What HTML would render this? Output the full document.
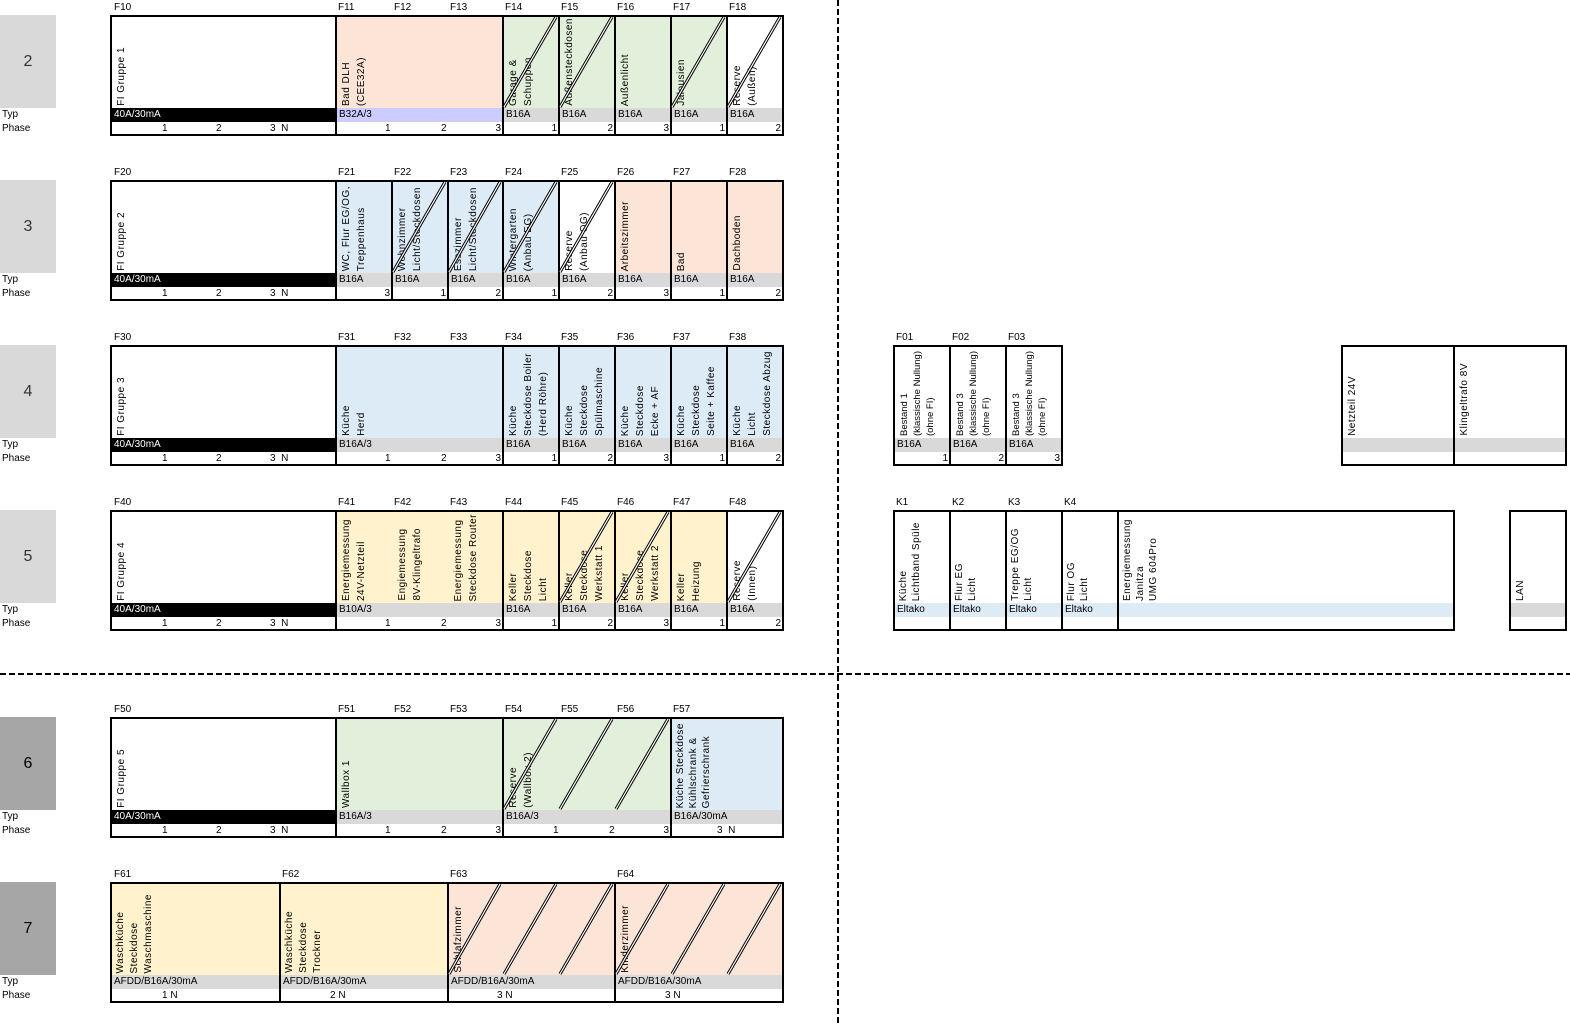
<!DOCTYPE html>
<html><head><meta charset="utf-8">
<style>
body{margin:0;width:1570px;height:1026px;background:#fff;position:relative;overflow:hidden;font-family:"Liberation Sans",Arial,sans-serif;font-size:10px;color:#000}
.c{position:absolute;height:121px;border:2px solid #000;box-sizing:border-box}
.c::before{content:"";position:absolute;left:0;right:0;top:105px;height:12px;background:#fff}
.v{position:absolute;bottom:28px;writing-mode:vertical-rl;transform:rotate(180deg);line-height:15px;letter-spacing:.5px;white-space:pre;font-size:10px}
.s{letter-spacing:0;font-size:9.5px;line-height:13px}
.t{position:absolute;left:0;right:0;top:91px;height:14px;background:#d9d9d9;line-height:14px;padding-left:2px;white-space:nowrap}
.k{background:#000;color:#fff}
.p{position:absolute;top:105px;height:12px;line-height:14px;white-space:nowrap}
.h{position:absolute;line-height:12px}
.n{position:absolute;left:0;width:56px;height:93px;background:#d9d9d9;font-size:16px;text-align:center;line-height:93px;color:#333}
.d{background:#a6a6a6;color:#000}
.l{position:absolute;left:2px;line-height:12px}
.o{background:#fce4d6}.g{background:#e2efda}.b{background:#ddebf7}.y{background:#fff2cc}
</style></head><body>

<div class="n" style="top:15px">2</div><div class="l" style="top:109px">Typ</div><div class="l" style="top:123px">Phase</div>
<div class="n" style="top:180px">3</div><div class="l" style="top:274px">Typ</div><div class="l" style="top:288px">Phase</div>
<div class="n" style="top:345px">4</div><div class="l" style="top:439px">Typ</div><div class="l" style="top:453px">Phase</div>
<div class="n" style="top:510px">5</div><div class="l" style="top:604px">Typ</div><div class="l" style="top:618px">Phase</div>
<div class="n d" style="top:717px">6</div><div class="l" style="top:811px">Typ</div><div class="l" style="top:825px">Phase</div>
<div class="n d" style="top:882px">7</div><div class="l" style="top:976px">Typ</div><div class="l" style="top:990px">Phase</div>

<!-- ROW 2 -->
<div class="h" style="left:114px;top:2px">F10</div><div class="h" style="left:338px;top:2px">F11</div><div class="h" style="left:394px;top:2px">F12</div><div class="h" style="left:450px;top:2px">F13</div><div class="h" style="left:505px;top:2px">F14</div><div class="h" style="left:561px;top:2px">F15</div><div class="h" style="left:617px;top:2px">F16</div><div class="h" style="left:673px;top:2px">F17</div><div class="h" style="left:729px;top:2px">F18</div>
<div class="c" style="left:110px;top:15px;width:227px"><div class="v" style="left:2px">FI Gruppe 1</div><div class="t k">40A/30mA</div><div class="p" style="left:50px">1</div><div class="p" style="left:104px">2</div><div class="p" style="left:158px">3 &nbsp;N</div></div>
<div class="c o" style="left:335px;top:15px;width:169px"><div class="v" style="left:2px">Bad DLH
(CEE32A)</div><div class="t" style="background:#ccccff">B32A/3</div><div class="p" style="left:48px">1</div><div class="p" style="left:104px">2</div><div class="p" style="right:1px">3</div></div>
<div class="c g" style="left:502px;top:15px;width:58px"><div class="v" style="left:2px">Garage &amp;
Schuppen</div><div class="t">B16A</div><div class="p" style="right:1px">1</div></div>
<div class="c g" style="left:558px;top:15px;width:58px"><div class="v" style="left:2px">Außensteckdosen</div><div class="t">B16A</div><div class="p" style="right:1px">2</div></div>
<div class="c g" style="left:614px;top:15px;width:58px"><div class="v" style="left:2px">Außenlicht</div><div class="t">B16A</div><div class="p" style="right:1px">3</div></div>
<div class="c g" style="left:670px;top:15px;width:58px"><div class="v" style="left:2px">Jalousien</div><div class="t">B16A</div><div class="p" style="right:1px">1</div></div>
<div class="c" style="left:726px;top:15px;width:58px"><div class="v" style="left:2px">Reserve
(Außen)</div><div class="t">B16A</div><div class="p" style="right:1px">2</div></div>

<!-- ROW 3 -->
<div class="h" style="left:114px;top:167px">F20</div><div class="h" style="left:338px;top:167px">F21</div><div class="h" style="left:394px;top:167px">F22</div><div class="h" style="left:450px;top:167px">F23</div><div class="h" style="left:505px;top:167px">F24</div><div class="h" style="left:561px;top:167px">F25</div><div class="h" style="left:617px;top:167px">F26</div><div class="h" style="left:673px;top:167px">F27</div><div class="h" style="left:729px;top:167px">F28</div>
<div class="c" style="left:110px;top:180px;width:227px"><div class="v" style="left:2px">FI Gruppe 2</div><div class="t k">40A/30mA</div><div class="p" style="left:50px">1</div><div class="p" style="left:104px">2</div><div class="p" style="left:158px">3 &nbsp;N</div></div>
<div class="c b" style="left:335px;top:180px;width:58px"><div class="v" style="left:2px">WC, Flur EG/OG,
Treppenhaus</div><div class="t">B16A</div><div class="p" style="right:1px">3</div></div>
<div class="c b" style="left:391px;top:180px;width:58px"><div class="v" style="left:2px">Wohnzimmer
Licht/Steckdosen</div><div class="t">B16A</div><div class="p" style="right:1px">1</div></div>
<div class="c b" style="left:447px;top:180px;width:57px"><div class="v" style="left:2px">Esszimmer
Licht/Steckdosen</div><div class="t">B16A</div><div class="p" style="right:1px">2</div></div>
<div class="c b" style="left:502px;top:180px;width:58px"><div class="v" style="left:2px">Wintergarten
(Anbau EG)</div><div class="t">B16A</div><div class="p" style="right:1px">1</div></div>
<div class="c" style="left:558px;top:180px;width:58px"><div class="v" style="left:2px">Reserve
(Anbau OG)</div><div class="t">B16A</div><div class="p" style="right:1px">2</div></div>
<div class="c o" style="left:614px;top:180px;width:58px"><div class="v" style="left:2px">Arbeitszimmer</div><div class="t">B16A</div><div class="p" style="right:1px">3</div></div>
<div class="c o" style="left:670px;top:180px;width:58px"><div class="v" style="left:2px">Bad</div><div class="t">B16A</div><div class="p" style="right:1px">1</div></div>
<div class="c o" style="left:726px;top:180px;width:58px"><div class="v" style="left:2px">Dachboden</div><div class="t">B16A</div><div class="p" style="right:1px">2</div></div>

<!-- ROW 4 -->
<div class="h" style="left:114px;top:332px">F30</div><div class="h" style="left:338px;top:332px">F31</div><div class="h" style="left:394px;top:332px">F32</div><div class="h" style="left:450px;top:332px">F33</div><div class="h" style="left:505px;top:332px">F34</div><div class="h" style="left:561px;top:332px">F35</div><div class="h" style="left:617px;top:332px">F36</div><div class="h" style="left:673px;top:332px">F37</div><div class="h" style="left:729px;top:332px">F38</div>
<div class="c" style="left:110px;top:345px;width:227px"><div class="v" style="left:2px">FI Gruppe 3</div><div class="t k">40A/30mA</div><div class="p" style="left:50px">1</div><div class="p" style="left:104px">2</div><div class="p" style="left:158px">3 &nbsp;N</div></div>
<div class="c b" style="left:335px;top:345px;width:169px"><div class="v" style="left:2px">Küche
Herd</div><div class="t">B16A/3</div><div class="p" style="left:48px">1</div><div class="p" style="left:104px">2</div><div class="p" style="right:1px">3</div></div>
<div class="c b" style="left:502px;top:345px;width:58px"><div class="v" style="left:2px">Küche
Steckdose Boiler
(Herd Röhre)</div><div class="t">B16A</div><div class="p" style="right:1px">1</div></div>
<div class="c b" style="left:558px;top:345px;width:58px"><div class="v" style="left:2px">Küche
Steckdose
Spülmaschine</div><div class="t">B16A</div><div class="p" style="right:1px">2</div></div>
<div class="c b" style="left:614px;top:345px;width:58px"><div class="v" style="left:2px">Küche
Steckdose
Ecke + AF</div><div class="t">B16A</div><div class="p" style="right:1px">3</div></div>
<div class="c b" style="left:670px;top:345px;width:58px"><div class="v" style="left:2px">Küche
Steckdose
Seite + Kaffee</div><div class="t">B16A</div><div class="p" style="right:1px">1</div></div>
<div class="c b" style="left:726px;top:345px;width:58px"><div class="v" style="left:2px">Küche
Licht
Steckdose Abzug</div><div class="t">B16A</div><div class="p" style="right:1px">2</div></div>

<!-- ROW 4 right -->
<div class="h" style="left:896px;top:332px">F01</div><div class="h" style="left:952px;top:332px">F02</div><div class="h" style="left:1008px;top:332px">F03</div>
<div class="c" style="left:893px;top:345px;width:58px"><div class="v s" style="left:3px">Bestand 1
(klassische Nullung)
(ohne FI)</div><div class="t">B16A</div><div class="p" style="right:1px">1</div></div>
<div class="c" style="left:949px;top:345px;width:58px"><div class="v s" style="left:3px">Bestand 3
(klassische Nullung)
(ohne FI)</div><div class="t">B16A</div><div class="p" style="right:1px">2</div></div>
<div class="c" style="left:1005px;top:345px;width:58px"><div class="v s" style="left:3px">Bestand 3
(klassische Nullung)
(ohne FI)</div><div class="t">B16A</div><div class="p" style="right:1px">3</div></div>
<div class="c" style="left:1341px;top:345px;width:114px"><div class="v" style="left:2px">Netzteil 24V</div><div class="t"></div></div>
<div class="c" style="left:1453px;top:345px;width:114px"><div class="v" style="left:2px">Klingeltrafo 8V</div><div class="t"></div></div>

<!-- ROW 5 -->
<div class="h" style="left:114px;top:497px">F40</div><div class="h" style="left:338px;top:497px">F41</div><div class="h" style="left:394px;top:497px">F42</div><div class="h" style="left:450px;top:497px">F43</div><div class="h" style="left:505px;top:497px">F44</div><div class="h" style="left:561px;top:497px">F45</div><div class="h" style="left:617px;top:497px">F46</div><div class="h" style="left:673px;top:497px">F47</div><div class="h" style="left:729px;top:497px">F48</div>
<div class="c" style="left:110px;top:510px;width:227px"><div class="v" style="left:2px">FI Gruppe 4</div><div class="t k">40A/30mA</div><div class="p" style="left:50px">1</div><div class="p" style="left:104px">2</div><div class="p" style="left:158px">3 &nbsp;N</div></div>
<div class="c y" style="left:335px;top:510px;width:169px"><div class="v" style="left:2px">Energiemessung
24V-Netzteil</div><div class="v" style="left:58px">Engiemessung
8V-Klingeltrafo</div><div class="v" style="left:114px">Energiemessung
Steckdose Router</div><div class="t">B10A/3</div><div class="p" style="left:48px">1</div><div class="p" style="left:104px">2</div><div class="p" style="right:1px">3</div></div>
<div class="c y" style="left:502px;top:510px;width:58px"><div class="v" style="left:2px">Keller
Steckdose
Licht</div><div class="t">B16A</div><div class="p" style="right:1px">1</div></div>
<div class="c y" style="left:558px;top:510px;width:58px"><div class="v" style="left:2px">Keller
Steckdose
Werkstatt 1</div><div class="t">B16A</div><div class="p" style="right:1px">2</div></div>
<div class="c y" style="left:614px;top:510px;width:58px"><div class="v" style="left:2px">Keller
Steckdose
Werkstatt 2</div><div class="t">B16A</div><div class="p" style="right:1px">3</div></div>
<div class="c y" style="left:670px;top:510px;width:58px"><div class="v" style="left:2px">Keller
Heizung</div><div class="t">B16A</div><div class="p" style="right:1px">1</div></div>
<div class="c" style="left:726px;top:510px;width:58px"><div class="v" style="left:2px">Reserve
(Innen)</div><div class="t">B16A</div><div class="p" style="right:1px">2</div></div>

<!-- ROW 5 right -->
<div class="h" style="left:896px;top:497px">K1</div><div class="h" style="left:952px;top:497px">K2</div><div class="h" style="left:1008px;top:497px">K3</div><div class="h" style="left:1064px;top:497px">K4</div>
<div class="c" style="left:893px;top:510px;width:58px"><div class="v" style="left:2px;line-height:13px">Küche
Lichtband Spüle</div><div class="t b">Eltako</div></div>
<div class="c" style="left:949px;top:510px;width:58px"><div class="v" style="left:2px;line-height:13px">Flur EG
Licht</div><div class="t b">Eltako</div></div>
<div class="c" style="left:1005px;top:510px;width:58px"><div class="v" style="left:2px;line-height:13px">Treppe EG/OG
Licht</div><div class="t b">Eltako</div></div>
<div class="c" style="left:1061px;top:510px;width:58px"><div class="v" style="left:2px;line-height:13px">Flur OG
Licht</div><div class="t b">Eltako</div></div>
<div class="c" style="left:1117px;top:510px;width:338px"><div class="v" style="left:2px;line-height:13px">Energiemessung
Janitza
UMG 604Pro</div><div class="t b"></div></div>
<div class="c" style="left:1509px;top:510px;width:58px"><div class="v" style="left:2px">LAN</div><div class="t"></div></div>

<!-- ROW 6 -->
<div class="h" style="left:114px;top:704px">F50</div><div class="h" style="left:338px;top:704px">F51</div><div class="h" style="left:394px;top:704px">F52</div><div class="h" style="left:450px;top:704px">F53</div><div class="h" style="left:505px;top:704px">F54</div><div class="h" style="left:561px;top:704px">F55</div><div class="h" style="left:617px;top:704px">F56</div><div class="h" style="left:673px;top:704px">F57</div>
<div class="c" style="left:110px;top:717px;width:227px"><div class="v" style="left:2px">FI Gruppe 5</div><div class="t k">40A/30mA</div><div class="p" style="left:50px">1</div><div class="p" style="left:104px">2</div><div class="p" style="left:158px">3 &nbsp;N</div></div>
<div class="c g" style="left:335px;top:717px;width:169px"><div class="v" style="left:2px">Wallbox 1</div><div class="t">B16A/3</div><div class="p" style="left:48px">1</div><div class="p" style="left:104px">2</div><div class="p" style="right:1px">3</div></div>
<div class="c g" style="left:502px;top:717px;width:170px"><div class="v" style="left:2px">Reserve
(Wallbox 2)</div><div class="t">B16A/3</div><div class="p" style="left:49px">1</div><div class="p" style="left:105px">2</div><div class="p" style="right:1px">3</div></div>
<div class="c b" style="left:670px;top:717px;width:114px"><div class="v" style="left:2px;line-height:13px">Küche Steckdose
Kühlschrank &amp;
Gefrierschrank</div><div class="t">B16A/30mA</div><div class="p" style="left:45px">3 &nbsp;N</div></div>

<!-- ROW 7 -->
<div class="h" style="left:114px;top:869px">F61</div><div class="h" style="left:282px;top:869px">F62</div><div class="h" style="left:450px;top:869px">F63</div><div class="h" style="left:617px;top:869px">F64</div>
<div class="c y" style="left:110px;top:882px;width:171px"><div class="v" style="left:2px;line-height:14px">Waschküche
Steckdose
Waschmaschine</div><div class="t">AFDD/B16A/30mA</div><div class="p" style="left:50px">1 N</div></div>
<div class="c y" style="left:279px;top:882px;width:170px"><div class="v" style="left:2px;line-height:14px">Waschküche
Steckdose
Trockner</div><div class="t">AFDD/B16A/30mA</div><div class="p" style="left:49px">2 N</div></div>
<div class="c o" style="left:447px;top:882px;width:169px"><div class="v" style="left:2px">Schlafzimmer</div><div class="t">AFDD/B16A/30mA</div><div class="p" style="left:48px">3 N</div></div>
<div class="c o" style="left:614px;top:882px;width:170px"><div class="v" style="left:2px">Kinderzimmer</div><div class="t">AFDD/B16A/30mA</div><div class="p" style="left:49px">3 N</div></div>

<svg width="1570" height="1026" style="position:absolute;left:0;top:0" xmlns="http://www.w3.org/2000/svg">
<g fill="none">
<g stroke="#000" stroke-width="3.2">
<path d="M504 107L556 17M560 107L612 17M672 107L724 17M728 107L780 17
M393 272L445 182M449 272L500 182M504 272L556 182M560 272L612 182
M560 602L612 512M616 602L668 512M728 602L780 512
M504 809L556 719M560 809L612 719M616 809L668 719
M449 974L500 884M504 974L556 884M560 974L612 884M616 974L668 884M672 974L724 884M728 974L780 884"/>
</g>
<g stroke="#fff" stroke-width="1.2">
<path d="M504 107L556 17M560 107L612 17M672 107L724 17M728 107L780 17
M393 272L445 182M449 272L500 182M504 272L556 182M560 272L612 182
M560 602L612 512M616 602L668 512M728 602L780 512
M504 809L556 719M560 809L612 719M616 809L668 719
M449 974L500 884M504 974L556 884M560 974L612 884M616 974L668 884M672 974L724 884M728 974L780 884"/>
</g>
</g>
<line x1="838" y1="0" x2="838" y2="1026" stroke="#000" stroke-width="2" stroke-dasharray="6,3"/>
<line x1="0" y1="674" x2="1570" y2="674" stroke="#000" stroke-width="2" stroke-dasharray="6,3"/>
</svg>
</body></html>
